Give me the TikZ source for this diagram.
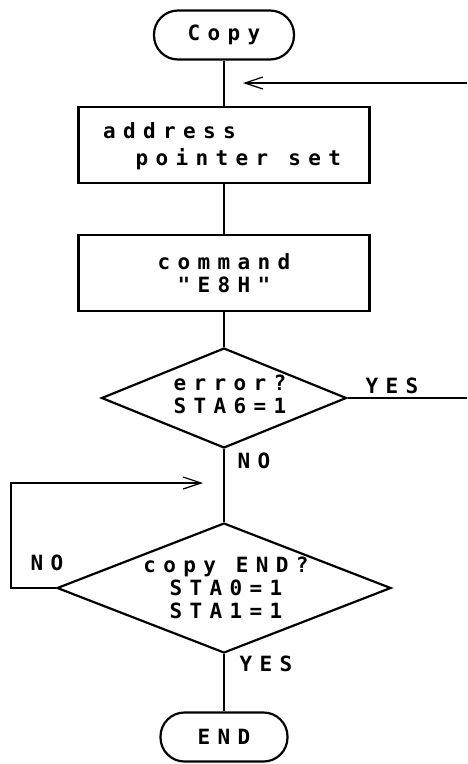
\documentclass[tikz,border=0pt]{standalone}
\usepackage{fontspec}
\usetikzlibrary{shapes.geometric,arrows.meta}
\newfontfamily\plotfont[LetterSpace=35]{DejaVu Sans Mono}
\newcommand{\qt}{\symbol{34}}

\begin{document}
\begin{tikzpicture}[
        x=1pt, y=-1pt,
        every node/.style={font=\plotfont\bfseries\fontsize{21}{23}\selectfont},
        terminal/.style={draw, line width=2.2pt, rounded corners=24pt,
            minimum height=49pt, inner sep=0pt},
        process/.style={draw, line width=2.2pt, minimum width=291pt,
            minimum height=76pt, inner sep=0pt, align=center},
        decision/.style={draw, diamond, line width=2.2pt, inner sep=0pt},
        flow/.style={line width=1.2pt},
        flowarrow/.style={line width=1.2pt, -{Straight Barb[length=18pt,width=12pt]}}
    ]
    \useasboundingbox (0,0) rectangle (467,764);

    % blocks
    \node[terminal, minimum width=140pt] (start) at (224,35) {Copy};
    \node[process] (addr) at (224,145) {};
    \node[align=left] (addrtxt) at (222,146) {address\\[4pt]\phantom{aa}pointer set};
    \node[process] (cmd) at (224,273) {command\\\qt E8H\qt};
    \node[decision, minimum width=245pt, minimum height=100pt] (err) at (224,398) {};
    \node[align=center] (errtxt) at (230,394) {error?\\STA6=1};
    \node[decision, minimum width=334pt, minimum height=130pt] (done) at (224,588) {};
    \node[align=center] (donetxt) at (226,588) {copy END?\\STA0=1\\STA1=1};
    \node[terminal, minimum width=127pt] (stop) at (224,737) {END};

    % free ends
    \coordinate (retin) at (467,83);
    \coordinate (retend) at (243,83);
    \coordinate (errout) at (467,398);
    \coordinate (looptip) at (203,483);

    % connectors
    \draw[flow] (start) -- (addr);
    \draw[flow] (addr) -- (cmd);
    \draw[flow] (cmd) -- (err);
    \draw[flow] (err) -- (done);
    \draw[flow] (done) -- (stop);
    \draw[flow] (err.east) -- (errout);
    \draw[flowarrow] (retin) -- (retend);
    \draw[flowarrow] (done.west) -- ++(-45,0) |- (looptip);

    % labels
    \node (yes1) at (392,386) {YES};
    \node (no1) at (254,461) {NO};
    \node (no2) at (47,563) {NO};
    \node (yes2) at (266,664) {YES};
\end{tikzpicture}
\end{document}
